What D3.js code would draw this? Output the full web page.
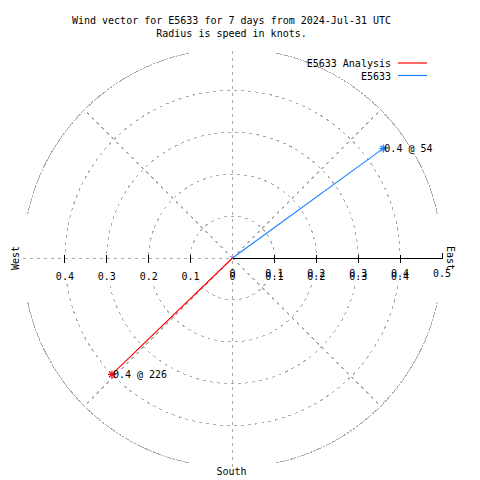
<!DOCTYPE html>
<html>
<head>
<meta charset="utf-8">
<script src="https://cdn.jsdelivr.net/npm/d3@7"></script>
<style>
  html, body { margin: 0; padding: 0; background: #fff; }
  svg { display: block; }
  text { font-family: "DejaVu Sans Mono", monospace; font-size: 10px; fill: #000; }
</style>
</head>
<body>
<svg id="chart" width="480" height="480"></svg>
<script>
// ---- data ----
const titleLines = ["Wind vector for E5633 for 7 days from 2024-Jul-31 UTC", "Radius is speed in knots."];
const ringValues = [0.1, 0.2, 0.3, 0.4, 0.5];
const gridLabelValues = [0, 0.1, 0.2, 0.3, 0.4];
const axisTickValues = [0.1, 0.2, 0.3, 0.4, 0.5];
const axisLabelValues = [0, 0.1, 0.2, 0.3, 0.4, 0.5];
const seriesNames = ["E5633 Analysis", "E5633"];
const seriesColors = ["#ff0000", "#1a80ff"];
const seriesSpeeds = [0.40, 0.445];
const seriesDirections = [226, 54];
const compassLabels = ["West", "East", "South"];

// ---- layout ----
const svg = d3.select("#chart");
const cx = 232.5, cy = 258;
const r = d3.scaleLinear().domain([0, 0.5]).range([0, 209.5]);
const xE = d3.scaleLinear().domain([0, 0.5]).range([cx, cx + r(0.5)]);
const xW = d3.scaleLinear().domain([0, 0.5]).range([cx, cx - r(0.5)]);
const ang = d3.scaleLinear().domain([0, 360]).range([0, 2 * Math.PI]);
const fmt = d3.format("");
const grid = { stroke: "#ababab", "stroke-width": 1, "stroke-dasharray": "3,4", fill: "none", "shape-rendering": "crispEdges" };
function styled(sel, st) { Object.entries(st).forEach(([k, v]) => sel.attr(k, v)); return sel; }
function px(s, d) { return cx + r(s) * Math.sin(ang(d)); }
function py(s, d) { return cy - r(s) * Math.cos(ang(d)); }

// title
svg.selectAll("text.title").data(titleLines).join("text")
  .attr("class", "title").attr("x", 231.5).attr("y", (d, i) => 24 + i * 12.5)
  .attr("text-anchor", "middle").text(d => d);

// rings (inner full circles)
styled(svg.append("g").selectAll("circle").data(ringValues.slice(0, 4)).join("circle")
  .attr("cx", cx).attr("cy", cy).attr("r", d => r(d)), grid);

// outer ring drawn as four arcs, gaps around the compass points
const arc = d3.arc().innerRadius(r(0.5)).outerRadius(r(0.5));
const quadrants = [0, 90, 180, 270];
styled(svg.append("g").attr("transform", `translate(${cx},${cy})`)
  .selectAll("path").data(quadrants).join("path")
  .attr("d", q => arc({ startAngle: ang(q + 12), endAngle: ang(q + 78) })), grid);

// white band behind the tick labels
svg.append("rect").attr("x", xW(0.5) - 2).attr("y", 259).attr("width", xE(0.5) - xW(0.5) + 4)
  .attr("height", 23).attr("fill", "#fff");

// radial diagonals
styled(svg.append("g").selectAll("line").data([45, 135, 225, 315]).join("line")
  .attr("x1", cx).attr("y1", cy)
  .attr("x2", d => px(0.5, d)).attr("y2", d => py(0.5, d)), grid);

// vertical axis line and west horizontal
styled(svg.append("line").attr("x1", cx).attr("x2", cx)
  .attr("y1", cy - r(0.5) + 2).attr("y2", cy + r(0.5) - 1), grid);
styled(svg.append("line").attr("x1", xW(0.5)).attr("x2", cx).attr("y1", cy).attr("y2", cy), grid);

// west ticks
svg.append("g").selectAll("line").data(ringValues.slice(0, 4)).join("line")
  .attr("x1", d => xW(d)).attr("x2", d => xW(d)).attr("y1", cy - 3).attr("y2", cy + 5)
  .attr("stroke", "#000").attr("stroke-width", 1).attr("shape-rendering", "crispEdges");

// east axis (solid black)
svg.append("line").attr("x1", cx).attr("x2", xE(0.5)).attr("y1", cy).attr("y2", cy)
  .attr("stroke", "#000").attr("stroke-width", 1).attr("shape-rendering", "crispEdges");
svg.append("g").selectAll("line").data(axisTickValues).join("line")
  .attr("x1", d => xE(d)).attr("x2", d => xE(d))
  .attr("y1", d => d === 0.5 ? cy - 5 : cy - 3).attr("y2", d => d === 0.5 ? cy + 1 : cy + 5)
  .attr("stroke", "#000").attr("stroke-width", 1).attr("shape-rendering", "crispEdges");

// grid labels (both sides) and axis labels (drawn twice on the east side, as in the reference)
svg.append("g").selectAll("text").data(gridLabelValues).join("text")
  .attr("x", d => xW(d)).attr("y", 280).attr("text-anchor", "middle").text(d => fmt(d));
svg.append("g").selectAll("text").data(gridLabelValues.slice(1)).join("text")
  .attr("x", d => xE(d)).attr("y", 280).attr("text-anchor", "middle").text(d => fmt(d));
svg.append("g").selectAll("text").data(axisLabelValues).join("text")
  .attr("x", d => xE(d)).attr("y", 277).attr("text-anchor", "middle").text(d => fmt(d));

// compass labels
svg.append("text").attr("transform", `translate(19,${cy}) rotate(-90)`)
  .attr("text-anchor", "middle").text(compassLabels[0]);
svg.append("text").attr("transform", `translate(447,${cy}) rotate(90)`)
  .attr("text-anchor", "middle").text(compassLabels[1]);
svg.append("text").attr("x", cx - 1).attr("y", 475).attr("text-anchor", "middle").text(compassLabels[2]);

// vectors
const vec = seriesNames.map((n, i) => ({ name: n, color: seriesColors[i], s: seriesSpeeds[i], d: seriesDirections[i] }));
const vg = svg.append("g");
vg.selectAll("line").data(vec).join("line")
  .attr("x1", cx).attr("y1", cy)
  .attr("x2", v => px(v.s, v.d)).attr("y2", v => py(v.s, v.d))
  .attr("stroke", v => v.color).attr("stroke-width", 1.1);
const star = [0, 45, 90, 135];
vec.forEach(v => {
  const ex = px(v.s, v.d), ey = py(v.s, v.d);
  vg.append("g").selectAll("line").data(star).join("line")
    .attr("x1", a => ex - 4 * Math.cos(ang(a))).attr("y1", a => ey - 4 * Math.sin(ang(a)))
    .attr("x2", a => ex + 4 * Math.cos(ang(a))).attr("y2", a => ey + 4 * Math.sin(ang(a)))
    .attr("stroke", v.color).attr("stroke-width", 1.2);
  vg.append("text").attr("x", ex + 1).attr("y", ey + 3.5)
    .text(`${(Math.floor(v.s * 10) / 10).toFixed(1)} @ ${v.d}`);
});

// legend
const lg = svg.append("g").selectAll("g").data(vec).join("g")
  .attr("transform", (v, i) => `translate(0,${63 + i * 12.5})`);
lg.append("text").attr("x", 391).attr("y", 4).attr("text-anchor", "end").text(v => v.name);
lg.append("line").attr("x1", 398).attr("x2", 427).attr("y1", 0).attr("y2", 0)
  .attr("stroke", v => v.color).attr("stroke-width", 1.2);
</script>
</body>
</html>
